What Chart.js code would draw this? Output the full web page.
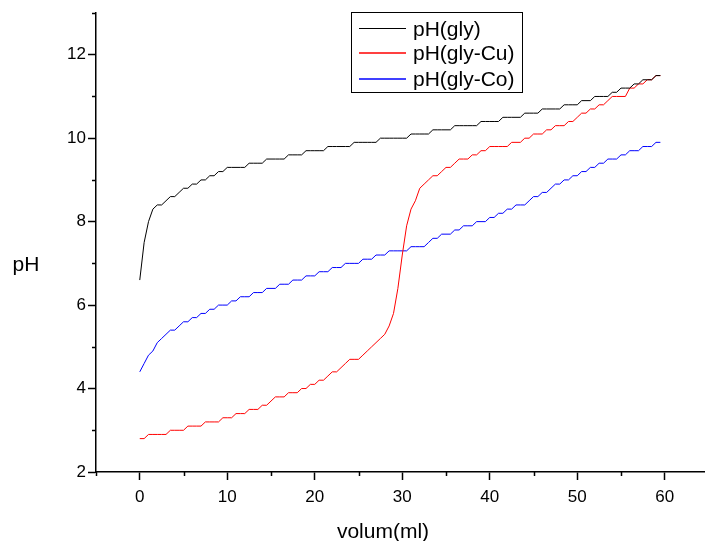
<!DOCTYPE html>
<html><head><meta charset="utf-8">
<script src="https://cdn.jsdelivr.net/npm/chart.js@4/dist/chart.umd.min.js"></script>
<style>html,body{margin:0;padding:0;background:#fff;overflow:hidden}canvas{display:block}</style>
</head><body>
<canvas id="c" width="705" height="541" style="width:705px;height:541px"></canvas>
<script>
const volume = [
  0,0.5,1,1.5,2,2.5,3,3.5,4,4.5,
  5,5.5,6,6.5,7,7.5,8,8.5,9,9.5,
  10,10.5,11,11.5,12,12.5,13,13.5,14,14.5,
  15,15.5,16,16.5,17,17.5,18,18.5,19,19.5,
  20,20.5,21,21.5,22,22.5,23,23.5,24,24.5,
  25,25.5,26,26.5,27,27.5,28,28.5,29,29.5,
  30,30.5,31,31.5,32,32.5,33,33.5,34,34.5,
  35,35.5,36,36.5,37,37.5,38,38.5,39,39.5,
  40,40.5,41,41.5,42,42.5,43,43.5,44,44.5,
  45,45.5,46,46.5,47,47.5,48,48.5,49,49.5,
  50,50.5,51,51.5,52,52.5,53,53.5,54,54.5,
  55,55.5,56,56.5,57,57.5,58,58.5,59,59.5
];
const phGly = [
  6.6,7.5,8.0,8.3,8.4,8.4,8.5,8.6,8.6,8.7,
  8.8,8.8,8.9,8.9,9.0,9.0,9.1,9.1,9.2,9.2,
  9.3,9.3,9.3,9.3,9.3,9.4,9.4,9.4,9.4,9.5,
  9.5,9.5,9.5,9.5,9.6,9.6,9.6,9.6,9.7,9.7,
  9.7,9.7,9.7,9.8,9.8,9.8,9.8,9.8,9.8,9.9,
  9.9,9.9,9.9,9.9,9.9,10.0,10.0,10.0,10.0,10.0,
  10.0,10.0,10.1,10.1,10.1,10.1,10.1,10.2,10.2,10.2,
  10.2,10.2,10.3,10.3,10.3,10.3,10.3,10.3,10.4,10.4,
  10.4,10.4,10.4,10.5,10.5,10.5,10.5,10.5,10.6,10.6,
  10.6,10.6,10.7,10.7,10.7,10.7,10.7,10.8,10.8,10.8,
  10.8,10.9,10.9,10.9,11.0,11.0,11.0,11.0,11.1,11.1,
  11.2,11.2,11.2,11.3,11.3,11.4,11.4,11.4,11.5,11.5
];
const phGlyCu = [
  2.8,2.8,2.9,2.9,2.9,2.9,2.9,3.0,3.0,3.0,
  3.0,3.1,3.1,3.1,3.1,3.2,3.2,3.2,3.2,3.3,
  3.3,3.3,3.4,3.4,3.4,3.5,3.5,3.5,3.6,3.6,
  3.7,3.8,3.8,3.8,3.9,3.9,3.9,4.0,4.0,4.1,
  4.1,4.2,4.2,4.3,4.4,4.4,4.5,4.6,4.7,4.7,
  4.7,4.8,4.9,5.0,5.1,5.2,5.3,5.5,5.8,6.4,
  7.2,7.9,8.3,8.5,8.8,8.9,9.0,9.1,9.1,9.2,
  9.3,9.3,9.4,9.5,9.5,9.5,9.6,9.6,9.7,9.7,
  9.8,9.8,9.8,9.8,9.8,9.9,9.9,9.9,10.0,10.0,
  10.1,10.1,10.1,10.2,10.2,10.3,10.3,10.3,10.4,10.4,
  10.5,10.6,10.6,10.7,10.7,10.8,10.8,10.9,11.0,11.0,
  11.0,11.0,11.2,11.2,11.3,11.3,11.4,11.4,11.5,11.5
];
const phGlyCo = [
  4.4,4.6,4.8,4.9,5.1,5.2,5.3,5.4,5.4,5.5,
  5.6,5.6,5.7,5.7,5.8,5.8,5.9,5.9,6.0,6.0,
  6.0,6.1,6.1,6.2,6.2,6.2,6.3,6.3,6.3,6.4,
  6.4,6.4,6.5,6.5,6.5,6.6,6.6,6.6,6.7,6.7,
  6.7,6.8,6.8,6.8,6.9,6.9,6.9,7.0,7.0,7.0,
  7.0,7.1,7.1,7.1,7.2,7.2,7.2,7.3,7.3,7.3,
  7.3,7.3,7.4,7.4,7.4,7.4,7.5,7.6,7.6,7.7,
  7.7,7.7,7.8,7.8,7.9,7.9,7.9,8.0,8.0,8.0,
  8.1,8.1,8.2,8.2,8.3,8.3,8.4,8.4,8.4,8.5,
  8.6,8.6,8.7,8.7,8.8,8.9,8.9,9.0,9.0,9.1,
  9.1,9.2,9.2,9.3,9.3,9.4,9.4,9.5,9.5,9.5,
  9.6,9.6,9.7,9.7,9.7,9.8,9.8,9.8,9.9,9.9
];
const seriesLabels = ['pH(gly)', 'pH(gly-Cu)', 'pH(gly-Co)'];
const xTickValues = [0, 10, 20, 30, 40, 50, 60];
const xMinorTickValues = [-5, 5, 15, 25, 35, 45, 55];
const yTickValues = [2, 4, 6, 8, 10, 12];
const yMinorTickValues = [3, 5, 7, 9, 11, 13];
const xTitle = 'volum(ml)';
const yTitle = 'pH';

const FONT = '"Liberation Sans", Arial, Helvetica, sans-serif';
const colors = ['#000000', '#ff0000', '#0000ff'];
const seriesValues = [phGly, phGlyCu, phGlyCo];

const datasets = seriesValues.map((vals, i) => ({
  label: seriesLabels[i],
  data: volume.map((v, j) => ({x: v, y: vals[j]})),
  borderColor: colors[i],
  backgroundColor: colors[i],
  borderWidth: 1,
  pointRadius: 0,
  tension: 0,
  fill: false
}));

const extras = {
  id: 'extras',
  afterDraw(chart) {
    const ctx = chart.ctx, xs = chart.scales.x, ys = chart.scales.y, a = chart.chartArea;
    ctx.save();
    ctx.strokeStyle = '#000';
    ctx.lineWidth = 1.5;
    ctx.beginPath();
    xMinorTickValues.forEach(v => {
      const px = Math.round(xs.getPixelForValue(v)) + 0.5;
      ctx.moveTo(px, a.bottom); ctx.lineTo(px, a.bottom + 4);
    });
    yMinorTickValues.forEach(v => {
      const py = Math.round(ys.getPixelForValue(v)) + 0.5;
      ctx.moveTo(a.left, py); ctx.lineTo(a.left - 4, py);
    });
    ctx.stroke();
    // axis titles
    ctx.fillStyle = '#000';
    ctx.font = '21px ' + FONT;
    ctx.textAlign = 'center';
    ctx.textBaseline = 'alphabetic';
    ctx.fillText(xTitle, 383, 538);
    ctx.fillText(yTitle, 26, 271);
    // legend
    const lx = 351, ly = 12, lw = 171, lh = 80;
    ctx.lineWidth = 1;
    ctx.strokeStyle = '#000';
    ctx.strokeRect(lx + 0.5, ly + 0.5, lw, lh);
    ctx.textAlign = 'left';
    ctx.textBaseline = 'middle';
    const rowY = [28.5, 53, 79];
    const rowW = [1, 1.5, 1.7];
    seriesLabels.forEach((label, i) => {
      const y = rowY[i];
      ctx.strokeStyle = colors[i];
      ctx.lineWidth = rowW[i];
      ctx.beginPath();
      ctx.moveTo(359, y); ctx.lineTo(406, y);
      ctx.stroke();
      ctx.fillStyle = '#000';
      ctx.fillText(label, 413, Math.round(y) + 1);
    });
    ctx.restore();
  }
};

new Chart(document.getElementById('c'), {
  type: 'line',
  data: { datasets },
  options: {
    responsive: false,
    animation: false,
    events: [],
    layout: { padding: { top: 13, left: 0, right: 0, bottom: 0 } },
    plugins: { legend: { display: false }, tooltip: { enabled: false } },
    scales: {
      x: {
        type: 'linear',
        min: -5, max: 64.6,
        afterBuildTicks: s => { s.ticks = xTickValues.map(v => ({value: v})); },
        afterFit: s => { s.height = 69; },
        grid: { display: true, drawOnChartArea: false, drawTicks: true, tickLength: 8, tickWidth: 1.5, tickColor: '#000' },
        border: { display: true, color: '#000', width: 1.5 },
        ticks: { autoSkip: false, maxRotation: 0, padding: 7, color: '#000', font: { family: FONT, size: 17 } }
      },
      y: {
        type: 'linear',
        min: 2, max: 13,
        afterBuildTicks: s => { s.ticks = yTickValues.map(v => ({value: v})); },
        afterFit: s => { s.width = 96; },
        grid: { display: true, drawOnChartArea: false, drawTicks: true, tickLength: 8, tickWidth: 1.5, tickColor: '#000' },
        border: { display: true, color: '#000', width: 1.5 },
        ticks: { autoSkip: false, padding: 2, color: '#000', font: { family: FONT, size: 17 } }
      }
    }
  },
  plugins: [extras]
});
</script>
</body></html>
